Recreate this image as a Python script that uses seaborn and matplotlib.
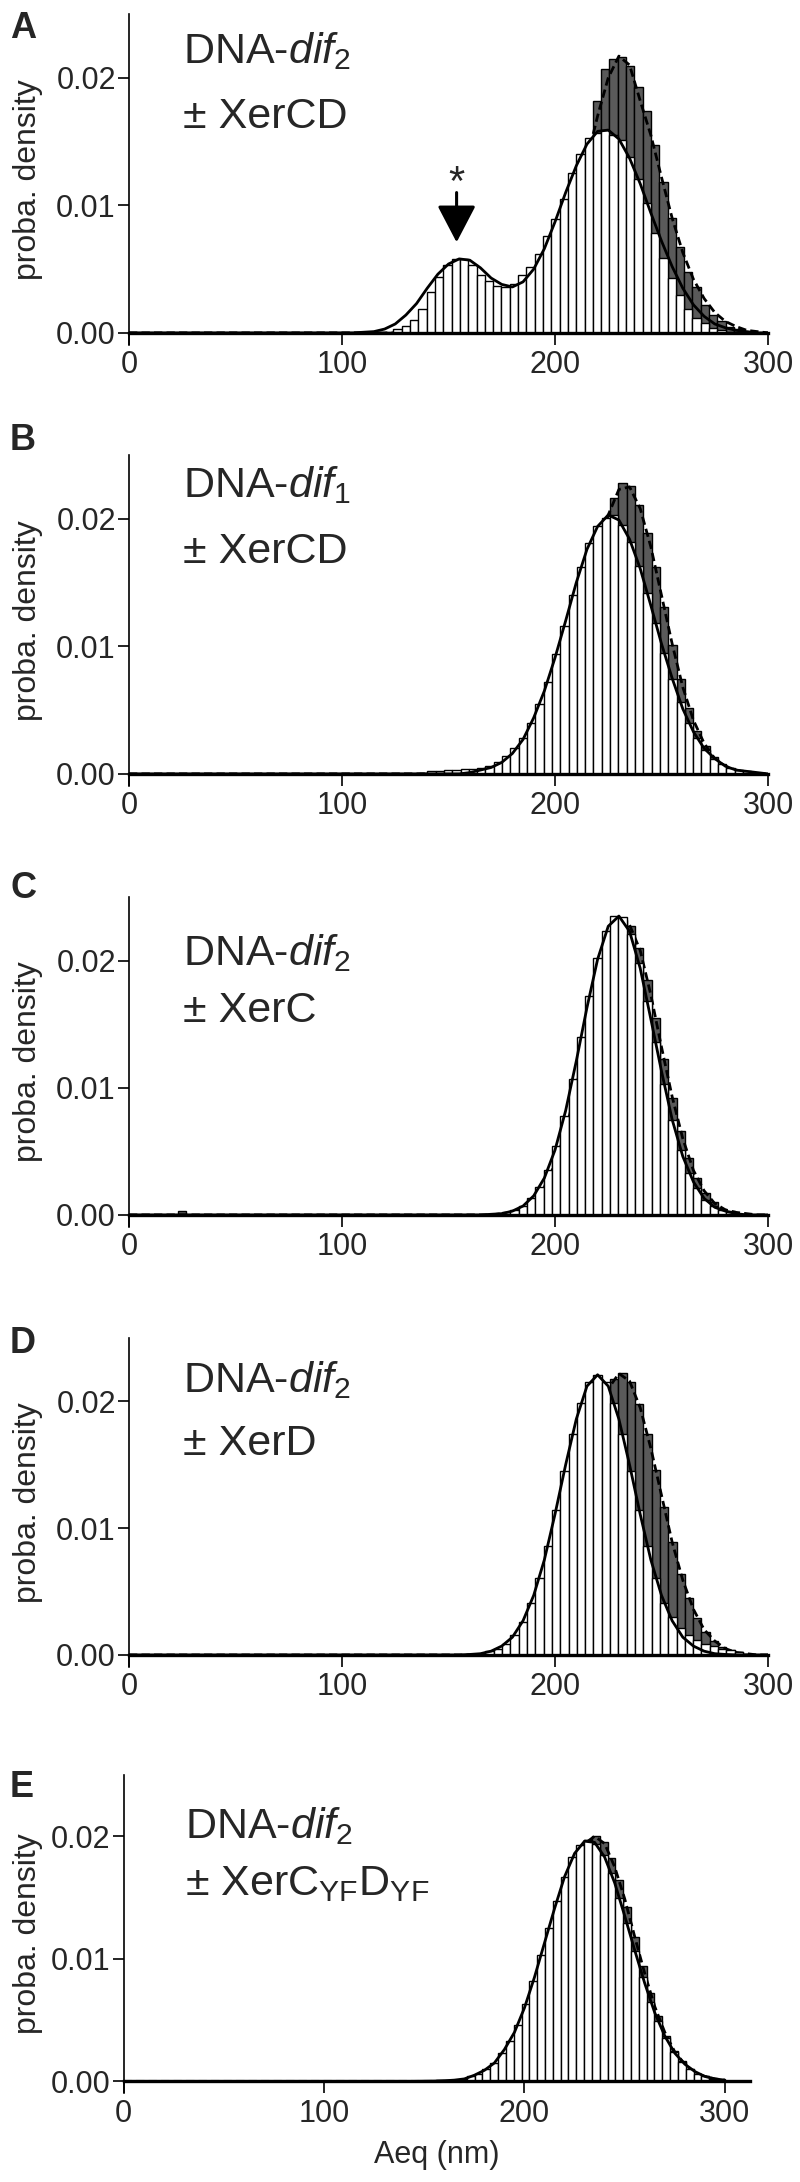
import numpy as np
import pandas as pd
import matplotlib
matplotlib.use('Agg')
import matplotlib.pyplot as plt
import seaborn as sns

# ---- data ----
BIN_W = 3.9  # histogram bin width, nm

# x positions of the fitted curves
fit_x = [0] + list(range(105, 301, 5))

# panel A : DNA-dif2 +/- XerCD
a_white_start = 122.2
a_white = [0.0001, 0.0003, 0.00055, 0.0010, 0.0019, 0.0032, 0.0044, 0.0053, 0.0058, 0.0058,
           0.0053, 0.0045, 0.0041, 0.0037, 0.0036, 0.0038, 0.0045, 0.0052, 0.0062, 0.0076,
           0.0089, 0.0105, 0.0125, 0.0140, 0.0153, 0.0157, 0.0159, 0.0155, 0.0151, 0.0138,
           0.0121, 0.0102, 0.0078, 0.0059, 0.0043, 0.0030, 0.0019, 0.0012, 0.0008, 0.0004,
           0.0002, 0.0001]
a_gray_start = 180.7
a_gray = [0.0002, 0.0004, 0.0009, 0.0016, 0.0028, 0.0045, 0.0068, 0.0095, 0.0125, 0.0148,
          0.0182, 0.0207, 0.0215, 0.0216, 0.0209, 0.0193, 0.0174, 0.0147, 0.0118, 0.0090,
          0.0067, 0.0048, 0.0036, 0.0022, 0.0014, 0.0009, 0.0005, 0.0003, 0.0001]
a_fit_white = [0, 0, 0.00005, 0.0001, 0.0003, 0.0007, 0.0014, 0.0023, 0.0035, 0.0046,
               0.0054, 0.0058, 0.0057, 0.0051, 0.0043, 0.0038, 0.0036, 0.0040, 0.0050, 0.0066,
               0.0087, 0.0110, 0.0131, 0.0148, 0.0158, 0.0159, 0.0152, 0.0137, 0.0117, 0.0094,
               0.0072, 0.0052, 0.0035, 0.0022, 0.0013, 0.0007, 0.0004, 0.0002, 0.0001, 0, 0]
a_fit_gray = [0] + [0] * 14 + [0.0001, 0.0004, 0.0008, 0.0016, 0.0029, 0.0047, 0.0072, 0.0102,
                               0.0136, 0.0170, 0.0200, 0.0217, 0.0210, 0.0182, 0.0155, 0.0122,
                               0.0090, 0.0063, 0.0042, 0.0027, 0.0016, 0.0009, 0.0005, 0.0002,
                               0.0001, 0]

# panel B : DNA-dif1 +/- XerCD
b_white_start = 138.1
b_white = [0.0001, 0.0002, 0.0002, 0.0003, 0.0003, 0.0004, 0.0004, 0.0005, 0.0006, 0.0009,
           0.0014, 0.0020, 0.0028, 0.0040, 0.0055, 0.0072, 0.0094, 0.0116, 0.0140, 0.0162,
           0.0181, 0.0194, 0.0201, 0.0203, 0.0195, 0.0182, 0.0163, 0.0142, 0.0118, 0.0095,
           0.0074, 0.0056, 0.0040, 0.0028, 0.0019, 0.0012, 0.0008, 0.0005, 0.0003, 0.0002,
           0.0001]
b_gray_start = 184.9
b_gray = [0.0004, 0.0008, 0.0015, 0.0025, 0.0040, 0.0059, 0.0083, 0.0111, 0.0141, 0.0171,
          0.0197, 0.0216, 0.0228, 0.0226, 0.0211, 0.0189, 0.0162, 0.0131, 0.0101, 0.0074,
          0.0052, 0.0034, 0.0022, 0.0013, 0.0007, 0.0004, 0.0002, 0.0001]
b_fit_white = [0] + [0] * 11 + [0.0001, 0.0003, 0.0005, 0.0009, 0.0016, 0.0027, 0.0044, 0.0065,
                                0.0091, 0.0120, 0.0150, 0.0176, 0.0194, 0.0203, 0.0199, 0.0184,
                                0.0161, 0.0132, 0.0102, 0.0075, 0.0051, 0.0033, 0.0020, 0.0012,
                                0.0006, 0.0003, 0.0002, 0.0001, 0]
b_fit_gray = [0] + [0] * 15 + [0.0002, 0.0005, 0.0011, 0.0021, 0.0037, 0.0062, 0.0094, 0.0132,
                               0.0171, 0.0203, 0.0223, 0.0225, 0.0208, 0.0178, 0.0140, 0.0102,
                               0.0068, 0.0042, 0.0024, 0.0012, 0.0006, 0.0003, 0.0001, 0, 0]

# panel C : DNA-dif2 +/- XerC
c_white_start = 177.1
c_white = [0.0002, 0.0004, 0.0007, 0.0013, 0.0022, 0.0035, 0.0054, 0.0078, 0.0107, 0.0140,
           0.0172, 0.0202, 0.0223, 0.0235, 0.0234, 0.0221, 0.0198, 0.0168, 0.0136, 0.0103,
           0.0075, 0.0051, 0.0033, 0.0021, 0.0012, 0.0007, 0.0004, 0.0002, 0.0001]
c_gray_start = 188.8
c_gray = [0.0009, 0.0016, 0.0026, 0.0042, 0.0062, 0.0088, 0.0118, 0.0150, 0.0181, 0.0207,
          0.0225, 0.0232, 0.0227, 0.0210, 0.0185, 0.0155, 0.0123, 0.0092, 0.0066, 0.0045,
          0.0029, 0.0017, 0.0010, 0.0005, 0.0003, 0.0001]
c_gray_stray_start = 25.0
c_gray_stray = [0.0003]
c_fit_white = [0] + [0] * 13 + [0.00005, 0.0001, 0.0003, 0.0007, 0.0015, 0.0029, 0.0051, 0.0082,
                                0.0121, 0.0163, 0.0201, 0.0227, 0.0235, 0.0223, 0.0194, 0.0154,
                                0.0113, 0.0075, 0.0046, 0.0026, 0.0013, 0.0006, 0.0003, 0.0001,
                                0, 0, 0]
c_fit_gray = [0] + [0] * 14 + [0.0001, 0.0002, 0.0005, 0.0011, 0.0022, 0.0040, 0.0066, 0.0100,
                               0.0141, 0.0181, 0.0213, 0.0230, 0.0228, 0.0208, 0.0173, 0.0132,
                               0.0093, 0.0060, 0.0035, 0.0019, 0.0009, 0.0004, 0.0002, 0.0001,
                               0, 0]

# panel D : DNA-dif2 +/- XerD
d_white_start = 165.4
d_white = [0.0001, 0.0003, 0.0005, 0.0009, 0.0016, 0.0026, 0.0041, 0.0061, 0.0086, 0.0114,
           0.0145, 0.0174, 0.0199, 0.0215, 0.0221, 0.0215, 0.0199, 0.0174, 0.0145, 0.0114,
           0.0086, 0.0061, 0.0041, 0.0030, 0.0021, 0.0016, 0.0012, 0.0009, 0.0007, 0.0005,
           0.0004, 0.0002, 0.0001]
d_gray_start = 184.9
d_gray = [0.0008, 0.0013, 0.0022, 0.0034, 0.0051, 0.0073, 0.0099, 0.0127, 0.0156, 0.0183,
          0.0205, 0.0218, 0.0222, 0.0215, 0.0198, 0.0174, 0.0146, 0.0117, 0.0089, 0.0064,
          0.0045, 0.0029, 0.0018, 0.0011, 0.0006, 0.0004, 0.0002, 0.0001]
d_fit_white = [0] + [0] * 11 + [0.00004, 0.0001, 0.0003, 0.0007, 0.0014, 0.0027, 0.0047, 0.0075,
                                0.0111, 0.0150, 0.0186, 0.0212, 0.0221, 0.0212, 0.0186, 0.0150,
                                0.0111, 0.0075, 0.0047, 0.0027, 0.0014, 0.0007, 0.0003, 0.0001,
                                0.00004, 0, 0, 0, 0]
d_fit_gray = [0] + [0] * 14 + [0.0002, 0.0004, 0.0008, 0.0016, 0.0029, 0.0049, 0.0076, 0.0111,
                               0.0148, 0.0183, 0.0210, 0.0222, 0.0216, 0.0195, 0.0163, 0.0126,
                               0.0089, 0.0059, 0.0036, 0.0020, 0.0011, 0.0005, 0.0002, 0.0001,
                               0, 0]

# panel E : DNA-dif2 +/- XerC(YF)D(YF)
e_white_start = 157.6
e_white = [0.0001, 0.0001, 0.0001, 0.0002, 0.0004, 0.0006, 0.0010, 0.0015, 0.0023, 0.0033,
           0.0046, 0.0063, 0.0082, 0.0103, 0.0125, 0.0147, 0.0167, 0.0183, 0.0193, 0.0197,
           0.0194, 0.0185, 0.0170, 0.0150, 0.0129, 0.0106, 0.0085, 0.0065, 0.0049, 0.0035,
           0.0024, 0.0016, 0.0010, 0.0006, 0.0004, 0.0002, 0.0001]
e_gray_start = 181.0
e_gray = [0.0004, 0.0007, 0.0012, 0.0019, 0.0029, 0.0042, 0.0058, 0.0078, 0.0101, 0.0125,
          0.0149, 0.0170, 0.0187, 0.0197, 0.0200, 0.0195, 0.0182, 0.0164, 0.0142, 0.0118,
          0.0094, 0.0072, 0.0053, 0.0037, 0.0025, 0.0017, 0.0010, 0.0006, 0.0004, 0.0002,
          0.0001]
e_fit_white = [0] + [0] * 9 + [0.00001, 0.00002, 0.00005, 0.0001, 0.0002, 0.0005, 0.0009, 0.0015,
                               0.0026, 0.0040, 0.0060, 0.0085, 0.0113, 0.0141, 0.0167, 0.0186,
                               0.0196, 0.0195, 0.0183, 0.0162, 0.0135, 0.0107, 0.0080, 0.0056,
                               0.0037, 0.0023, 0.0014, 0.0008, 0.0004, 0.0002, 0.0001]
e_fit_gray = [0] + [0] * 12 + [0.00003, 0.0001, 0.0002, 0.0004, 0.0007, 0.0014, 0.0024, 0.0040,
                               0.0061, 0.0088, 0.0118, 0.0149, 0.0175, 0.0194, 0.0200, 0.0194,
                               0.0175, 0.0149, 0.0118, 0.0088, 0.0061, 0.0040, 0.0024, 0.0014,
                               0.0007, 0.0004, 0.0002, 0.0001]

labels_top = ['DNA-$\\mathit{dif}_2$', 'DNA-$\\mathit{dif}_1$', 'DNA-$\\mathit{dif}_2$',
              'DNA-$\\mathit{dif}_2$', 'DNA-$\\mathit{dif}_2$']
labels_bottom = ['± XerCD', '± XerCD', '± XerC', '± XerD',
                 '± XerC$_{\\mathrm{YF}}$D$_{\\mathrm{YF}}$']
panel_letters = ['A', 'B', 'C', 'D', 'E']

# arrow / asterisk marking the small population in A
star_x = 153.8

# ---- style ----
sns.set_style('ticks')
plt.rcParams['font.family'] = ['Liberation Sans', 'DejaVu Sans']
plt.rcParams['mathtext.fontset'] = 'custom'
plt.rcParams['mathtext.rm'] = 'Liberation Sans'
plt.rcParams['mathtext.it'] = 'Liberation Sans:italic'
plt.rcParams['mathtext.bf'] = 'Liberation Sans:bold'

W, H = 800, 2182
fig = plt.figure(figsize=(W / 100, H / 100), dpi=100)


def px_axes(left, top, right, bottom):
    return fig.add_axes([left / W, 1 - bottom / H, (right - left) / W, (bottom - top) / H])


GRAY = '#5a5a5a'


def bars(ax, start, heights, color, z):
    centres = start + BIN_W * np.arange(len(heights))
    edges = [float(c - BIN_W / 2) for c in centres] + [float(centres[-1] + BIN_W / 2)]
    df = pd.DataFrame({'x': centres, 'w': heights})
    sns.histplot(data=df, x='x', weights='w', bins=edges, ax=ax, color=color,
                 edgecolor='black', linewidth=1.0, alpha=1, stat='count', zorder=z)


panels = [
    dict(box=(129, 14, 768, 345), xmax=300, white=(a_white_start, a_white), gray=(a_gray_start, a_gray),
         fw=a_fit_white, fg=a_fit_gray, txt=(0.085, 0.852, 0.656)),
    dict(box=(129, 455, 768, 786), xmax=300, white=(b_white_start, b_white), gray=(b_gray_start, b_gray),
         fw=b_fit_white, fg=b_fit_gray, txt=(0.085, 0.873, 0.674)),
    dict(box=(129, 897, 768, 1227), xmax=300, white=(c_white_start, c_white), gray=(c_gray_start, c_gray),
         fw=c_fit_white, fg=c_fit_gray, txt=(0.085, 0.794, 0.621)),
    dict(box=(129, 1338, 768, 1667), xmax=300, white=(d_white_start, d_white), gray=(d_gray_start, d_gray),
         fw=d_fit_white, fg=d_fit_gray, txt=(0.085, 0.836, 0.644)),
    dict(box=(123.5, 1775, 750, 2093), xmax=312.5, white=(e_white_start, e_white), gray=(e_gray_start, e_gray),
         fw=e_fit_white, fg=e_fit_gray, txt=(0.098, 0.802, 0.623)),
]
letter_baselines = [38, 450, 898, 1353, 1797]

axes = []
for i, p in enumerate(panels):
    ax = px_axes(*p['box'])
    axes.append(ax)
    # gray (behind), dashed fit, then white bars on top, solid fit last
    bars(ax, p['gray'][0], p['gray'][1], GRAY, 1.0)
    if i == 2:
        bars(ax, c_gray_stray_start, c_gray_stray, GRAY, 1.0)
    sns.lineplot(x=fit_x, y=p['fg'], ax=ax, color='black', linewidth=2.0,
                 linestyle=(0, (3, 1.5)), zorder=1.5)
    bars(ax, p['white'][0], p['white'][1], 'white', 2.0)
    sns.lineplot(x=fit_x, y=p['fw'], ax=ax, color='black', linewidth=2.0, zorder=3)

    ax.set_xlim(0, p['xmax'])
    ax.set_ylim(-0.00095, 0.0250)
    ax.set_xticks([0, 100, 200, 300])
    ax.set_yticks([0, 0.01, 0.02])
    ax.set_yticklabels(['0.00', '0.01', '0.02'])
    ax.tick_params(axis='both', labelsize=22, width=1.2, color='black')
    ax.tick_params(axis='x', length=8.5, pad=4)
    ax.tick_params(axis='y', length=8, pad=1.5)
    sns.despine(ax=ax)
    ax.spines['bottom'].set_position(('data', 0))
    ax.spines['bottom'].set_linewidth(2.4)
    ax.spines['bottom'].set_zorder(4)
    ax.spines['left'].set_linewidth(1.2)
    ax.spines['left'].set_color('black')
    ax.spines['bottom'].set_color('black')
    ax.set_ylabel('proba. density', fontsize=23)
    ax.yaxis.set_label_coords(-0.135 if i < 4 else -0.128, 0.5)
    ax.set_xlabel('')

    tx, ty1, ty2 = p['txt']
    ax.text(tx, ty1, labels_top[i], transform=ax.transAxes, fontsize=31, va='baseline')
    ax.text(tx, ty2, labels_bottom[i], transform=ax.transAxes, fontsize=31, va='baseline')

    fig.text(10 / W, 1 - letter_baselines[i] / H, panel_letters[i], fontsize=26,
             fontweight='bold', va='baseline', ha='left')

axes[-1].set_xlabel('Aeq (nm)', fontsize=22, labelpad=8)

# arrow + asterisk in panel A
axes[0].annotate('', xy=(star_x, 0.0071), xytext=(star_x, 0.0110),
                 arrowprops=dict(arrowstyle='-|>,head_length=1.15,head_width=0.6',
                                 mutation_scale=20, lw=2.2, color='black',
                                 shrinkA=0, shrinkB=0))
axes[0].text(star_x, 0.0108, '*', ha='center', va='baseline', fontsize=30)

fig.savefig('out.png', dpi=100)
